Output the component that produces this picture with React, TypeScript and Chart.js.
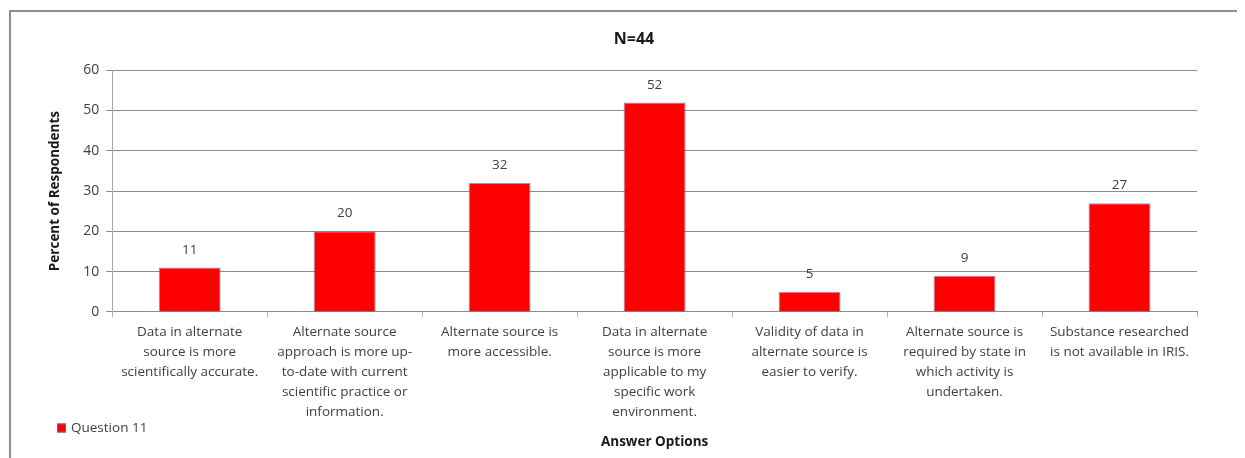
import { useEffect, useRef } from "react";
import { Chart, registerables } from "chart.js";

Chart.register(...registerables);

// Survey answer options (each entry is the wrapped label, one string per line)
const categories: string[][] = [
  ["Data in alternate", "source is more", "scientifically accurate."],
  ["Alternate source", "approach is more up-", "to-date with current", "scientific practice or", "information."],
  ["Alternate source is", "more accessible."],
  ["Data in alternate", "source is more", "applicable to my", "specific work", "environment."],
  ["Validity of data in", "alternate source is", "easier to verify."],
  ["Alternate source is", "required by state in", "which activity is", "undertaken."],
  ["Substance researched", "is not available in IRIS."],
];

// Percent of respondents choosing each option
const percentRespondents: number[] = [11, 20, 32, 52, 5, 9, 27];

const yTickValues: number[] = [0, 10, 20, 30, 40, 50, 60];

const seriesName = "Question 11";
const chartTitle = "N=44";
const xAxisTitle = "Answer Options";
const yAxisTitle = "Percent of Respondents";

const FONT = "'Open Sans', Lato, 'DejaVu Sans', sans-serif";
const BAR_FILL = "#ff0000";
const BAR_EDGE = "rgba(79,129,189,0.75)";
const GRID = "#8c8c8c";
const TEXT = "#404040";

// Writes each bar's value just above it
const valueLabels = {
  id: "valueLabels",
  afterDatasetsDraw(chart: any) {
    const ctx = chart.ctx;
    const meta = chart.getDatasetMeta(0);
    const values = chart.data.datasets[0].data as number[];
    ctx.save();
    ctx.font = `13.5px ${FONT}`;
    ctx.fillStyle = TEXT;
    ctx.textAlign = "center";
    ctx.textBaseline = "bottom";
    meta.data.forEach((bar: any, i: number) => {
      ctx.fillText(String(values[i]), bar.x, bar.y - 11);
    });
    ctx.restore();
  },
};

// Single-entry legend placed in the lower-left corner
const cornerLegend = {
  id: "cornerLegend",
  afterDraw(chart: any) {
    const ctx = chart.ctx;
    const ds = chart.data.datasets[0];
    const cy = chart.height - 30;
    const x = 49;
    ctx.save();
    ctx.fillStyle = ds.backgroundColor;
    ctx.fillRect(x, cy - 4.5, 9, 9);
    ctx.strokeStyle = BAR_EDGE;
    ctx.lineWidth = 1;
    ctx.strokeRect(x + 0.5, cy - 4, 8, 8);
    ctx.font = `13.5px ${FONT}`;
    ctx.fillStyle = TEXT;
    ctx.textAlign = "left";
    ctx.textBaseline = "middle";
    ctx.fillText(ds.label, x + 14, cy);
    ctx.restore();
  },
};

export default function App() {
  const canvasRef = useRef<HTMLCanvasElement | null>(null);

  useEffect(() => {
    document.body.style.overflow = "hidden";
    const canvas = canvasRef.current;
    if (!canvas) return;
    const chart = new Chart(canvas, {
      type: "bar",
      data: {
        labels: categories,
        datasets: [
          {
            label: seriesName,
            data: percentRespondents,
            backgroundColor: BAR_FILL,
            borderColor: BAR_EDGE,
            borderWidth: 1,
            barPercentage: 0.8,
            categoryPercentage: 0.5,
          },
        ],
      },
      options: {
        animation: false,
        responsive: true,
        maintainAspectRatio: false,
        layout: { padding: 0 },
        plugins: {
          legend: { display: false },
          tooltip: { enabled: false },
          title: {
            display: true,
            text: chartTitle,
            color: "#1a1a1a",
            font: { family: FONT, size: 16, weight: "bold", lineHeight: 1.2 },
            padding: { top: 22, bottom: 21 },
          },
        },
        scales: {
          x: {
            type: "category",
            offset: true,
            grid: {
              display: true,
              drawOnChartArea: false,
              drawTicks: true,
              tickLength: 5,
              color: "#b0b0b0",
              offset: true,
            },
            border: { display: true, color: GRID },
            ticks: {
              autoSkip: false,
              maxRotation: 0,
              minRotation: 0,
              padding: 5,
              color: TEXT,
              font: { family: FONT, size: 13.5, lineHeight: 1.48 },
            },
            title: {
              display: true,
              text: xAxisTitle,
              color: "#1a1a1a",
              font: { family: FONT, size: 13.5, weight: "bold", lineHeight: 1.2 },
              padding: { top: 7, bottom: 8 },
            },
          },
          y: {
            type: "linear",
            position: "left",
            min: 0,
            max: 60,
            grid: { color: GRID, tickLength: 6, lineWidth: 1 },
            border: { display: true, color: "#a6a6a6" },
            afterBuildTicks: (scale: any) => {
              scale.ticks = yTickValues.map((v) => ({ value: v }));
            },
            ticks: {
              padding: 7,
              color: TEXT,
              font: { family: FONT, size: 14 },
            },
            title: {
              display: true,
              text: yAxisTitle,
              color: "#1a1a1a",
              font: { family: FONT, size: 13.5, weight: "bold", lineHeight: 1.2 },
              padding: { top: 39, bottom: 13 },
            },
          },
          // blank margin on the right of the plot
          yRight: {
            type: "linear",
            position: "right",
            display: true,
            grid: { display: false, drawTicks: false },
            border: { display: false },
            ticks: { display: false },
            afterFit: (scale: any) => {
              scale.width = 63;
            },
          },
        },
      },
      plugins: [valueLabels, cornerLegend],
    });
    return () => chart.destroy();
  }, []);

  return (
    <div style={{ position: "relative", width: 1252, height: 450, overflow: "hidden" }}>
      <div
        style={{
          position: "absolute",
          left: 1,
          top: 2,
          width: 1400,
          height: 600,
          borderLeft: "2px solid #8f8f8f",
          borderTop: "2px solid #8f8f8f",
          boxSizing: "border-box",
        }}
      />
      <canvas ref={canvasRef} style={{ position: "relative" }} />
    </div>
  );
}
